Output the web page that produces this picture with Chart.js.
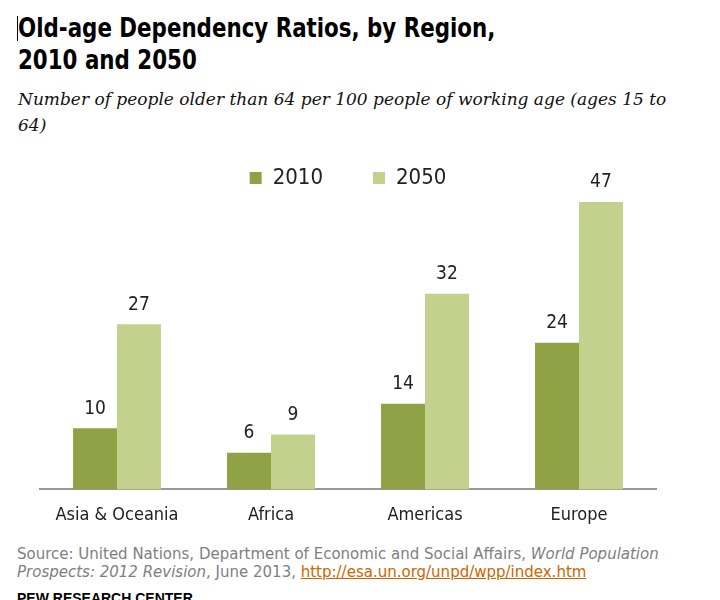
<!DOCTYPE html>
<html>
<head>
<meta charset="utf-8">
<script src="https://cdn.jsdelivr.net/npm/chart.js@4.4.0/dist/chart.umd.min.js"></script>
<style>
  body { margin: 0; background: #fff; width: 720px; height: 600px; overflow: hidden; position: relative; }
  #title { position: absolute; left: 18px; top: 12px; font-family: "DejaVu Sans Condensed", sans-serif; font-weight: bold; font-size: 27px; line-height: 32px; color: #000; transform: scaleX(0.88); transform-origin: left top; white-space: nowrap; }
  #cursor { position: absolute; left: 17px; top: 16px; width: 1px; height: 25px; background: #000; }
  #subtitle { position: absolute; left: 18px; top: 86px; width: 650px; font-family: "DejaVu Serif", "Liberation Serif", serif; font-style: italic; font-size: 17px; line-height: 26px; color: #111; }
  #wrap { position: absolute; left: 0; top: 109px; width: 720px; height: 432px; }
  #source { position: absolute; left: 17px; top: 545px; font-family: "DejaVu Sans", sans-serif; font-size: 15px; line-height: 18px; color: #808080; white-space: nowrap; }
  #source a { color: #cc6600; text-decoration: underline; }
  #pew { position: absolute; left: 17px; top: 590px; font-family: "Liberation Sans", sans-serif; font-weight: bold; font-size: 14px; color: #000; }
</style>
</head>
<body>
<div id="title">Old-age Dependency Ratios, by Region,<br>2010 and 2050</div>
<div id="cursor"></div>
<div id="subtitle">Number of people older than 64 per 100 people of working age (ages 15 to 64)</div>
<div id="wrap"><canvas id="chart"></canvas></div>
<div id="source">Source: United Nations, Department of Economic and Social Affairs, <i>World Population<br>Prospects: 2012 Revision</i>, June 2013, <a>http://esa.un.org/unpd/wpp/index.htm</a></div>
<div id="pew">PEW RESEARCH CENTER</div>
<script>
const regions = ['Asia & Oceania', 'Africa', 'Americas', 'Europe'];
const values2010 = [10, 6, 14, 24];
const values2050 = [27, 9, 32, 47];

const labelFont = '"Liberation Sans Narrow", "DejaVu Sans Condensed", sans-serif';

// draw the number above each bar
const valueLabels = {
  id: 'valueLabels',
  afterDatasetsDraw(chart) {
    const ctx = chart.ctx;
    ctx.save();
    ctx.font = '19px ' + labelFont;
    ctx.fillStyle = '#222';
    ctx.textAlign = 'center';
    ctx.textBaseline = 'bottom';
    chart.data.datasets.forEach((ds, i) => {
      chart.getDatasetMeta(i).data.forEach((bar, j) => {
        ctx.fillText(ds.data[j], bar.x, bar.y - 10);
      });
    });
    ctx.restore();
  }
};

new Chart(document.getElementById('chart'), {
  type: 'bar',
  data: {
    labels: regions,
    datasets: [
      { label: '2010', data: values2010, backgroundColor: '#8fa246' },
      { label: '2050', data: values2050, backgroundColor: '#c2d18b' }
    ]
  },
  options: {
    responsive: true,
    maintainAspectRatio: false,
    animation: false,
    layout: { padding: { left: 40, right: 64, top: 8, bottom: 8 } },
    plugins: {
      legend: {
        position: 'top',
        labels: {
          font: { family: labelFont, size: 22 },
          color: '#222',
          boxWidth: 12,
          boxHeight: 12,
          padding: 50
        }
      },
      tooltip: { enabled: false }
    },
    scales: {
      x: {
        grid: { display: false },
        border: { color: '#999', width: 2 },
        ticks: { font: { family: labelFont, size: 18 }, color: '#222', padding: 7 }
      },
      y: {
        display: false,
        min: 0,
        max: 47.5
      }
    },
    datasets: { bar: { categoryPercentage: 0.571, barPercentage: 1 } }
  },
  plugins: [valueLabels]
});
</script>
</body>
</html>
